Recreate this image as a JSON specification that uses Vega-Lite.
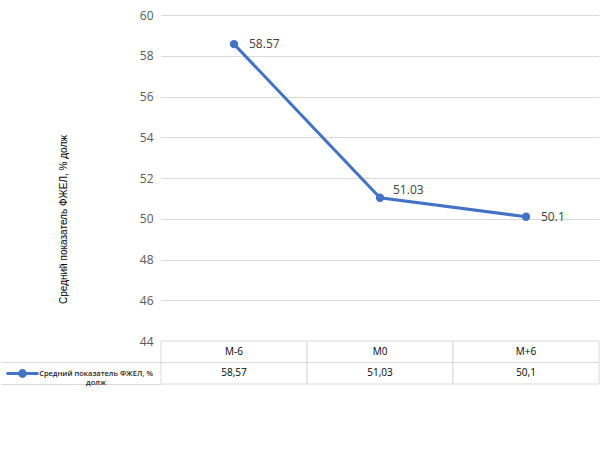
{
  "$schema": "https://vega.github.io/schema/vega-lite/v6.json",
  "padding": {"left": 0, "top": 9, "right": 2, "bottom": 5},
  "background": "white",
  "config": {"view": {"stroke": null}, "font": "Open Sans"},
  "datasets": {
    "fev": [
      {"period": "M-6", "value": 58.57, "series": "Средний показатель  ФЖЕЛ, % долж"},
      {"period": "M0", "value": 51.03, "series": "Средний показатель  ФЖЕЛ, % долж"},
      {"period": "M+6", "value": 50.1, "series": "Средний показатель  ФЖЕЛ, % долж"}
    ]
  },
  "spacing": 0,
  "bounds": "flush",
  "resolve": {"scale": {"x": "independent", "y": "independent"}},
  "vconcat": [
    {
      "width": 438,
      "height": 326,
      "data": {"name": "fev"},
      "encoding": {
        "x": {"field": "period", "type": "nominal", "sort": null, "axis": null, "scale": {"type": "point", "padding": 0.5}},
        "y": {
          "field": "value",
          "type": "quantitative",
          "scale": {"domain": [44, 60], "nice": false, "zero": false},
          "axis": {
            "values": [44, 46, 48, 50, 52, 54, 56, 58, 60],
            "grid": true,
            "gridColor": "#d9d9d9",
            "gridWidth": 1,
            "domain": false,
            "ticks": false,
            "labelColor": "#595959",
            "labelFontSize": 12,
            "labelPadding": 8,
            "title": "Средний показатель ФЖЕЛ, % долж",
            "titleFont": "Liberation Sans",
            "titleFontSize": 10,
            "titleFontWeight": "normal",
            "titleColor": "black",
            "titleX": -98,
            "titleY": 204,
            "titleAngle": 270,
            "titleAlign": "center",
            "titleBaseline": "middle"
          }
        }
      },
      "layer": [
        {
          "mark": {"type": "line", "strokeWidth": 3, "point": {"filled": true, "size": 70}},
          "encoding": {
            "color": {
              "field": "series",
              "type": "nominal",
              "scale": {"range": ["#4472C4"]},
              "legend": {
                "orient": "none",
                "legendX": -156,
                "legendY": 341,
                "title": null,
                "padding": 0,
                "symbolType": "M-1,0L1,0M0.18,0A0.18,0.18,0,1,1,-0.18,0A0.18,0.18,0,1,1,0.18,0Z",
                "symbolSize": 1024,
                "symbolStrokeWidth": 3,
                "symbolFillColor": "#4472C4",
                "symbolStrokeColor": "#4472C4",
                "labelExpr": "['Средний показатель  ФЖЕЛ, %', 'долж']",
                "labelFontSize": 7.5,
                "labelFontWeight": 600,
                "labelColor": "#262626",
                "labelAlign": "center",
                "labelOffset": 56,
                "labelLimit": 300
              }
            }
          }
        },
        {
          "transform": [{"filter": "datum.period != 'M0'"}],
          "mark": {"type": "text", "align": "left", "baseline": "middle", "dx": 15, "dy": 0, "fontSize": 12, "color": "#404040"},
          "encoding": {"text": {"field": "value", "type": "quantitative", "format": ".2~f"}}
        },
        {
          "transform": [{"filter": "datum.period == 'M0'"}],
          "mark": {"type": "text", "align": "left", "baseline": "middle", "dx": 13, "dy": -8, "fontSize": 12, "color": "#404040"},
          "encoding": {"text": {"field": "value", "type": "quantitative", "format": ".2~f"}}
        }
      ]
    },
    {
      "width": 438,
      "height": 43,
      "data": {"name": "fev"},
      "encoding": {
        "x": {"field": "period", "type": "nominal", "sort": null, "axis": null, "scale": {"type": "band", "paddingInner": 0, "paddingOuter": 0}}
      },
      "layer": [
        {
          "mark": {"type": "rect", "fill": "white", "stroke": "#d9d9d9", "strokeWidth": 1},
          "encoding": {
            "y": {
              "datum": "header",
              "type": "nominal",
              "scale": {"domain": ["header", "value"], "paddingInner": 0, "paddingOuter": 0},
              "axis": {"title": null, "labels": false, "domain": false, "grid": false, "ticks": true, "tickSize": 160, "tickColor": "#d9d9d9", "tickWidth": 1, "bandPosition": 1}
            }
          }
        },
        {
          "mark": {"type": "rect", "fill": "white", "stroke": "#d9d9d9", "strokeWidth": 1},
          "encoding": {"y": {"datum": "value", "type": "nominal"}}
        },
        {
          "mark": {"type": "text", "fontSize": 10, "color": "black"},
          "encoding": {"y": {"datum": "header", "type": "nominal"}, "text": {"field": "period", "type": "nominal"}}
        },
        {
          "mark": {"type": "text", "fontSize": 10, "color": "black", "text": {"expr": "replace(format(datum.value, '.2~f'), '.', ',')"}},
          "encoding": {"y": {"datum": "value", "type": "nominal"}}
        }
      ]
    }
  ]
}
